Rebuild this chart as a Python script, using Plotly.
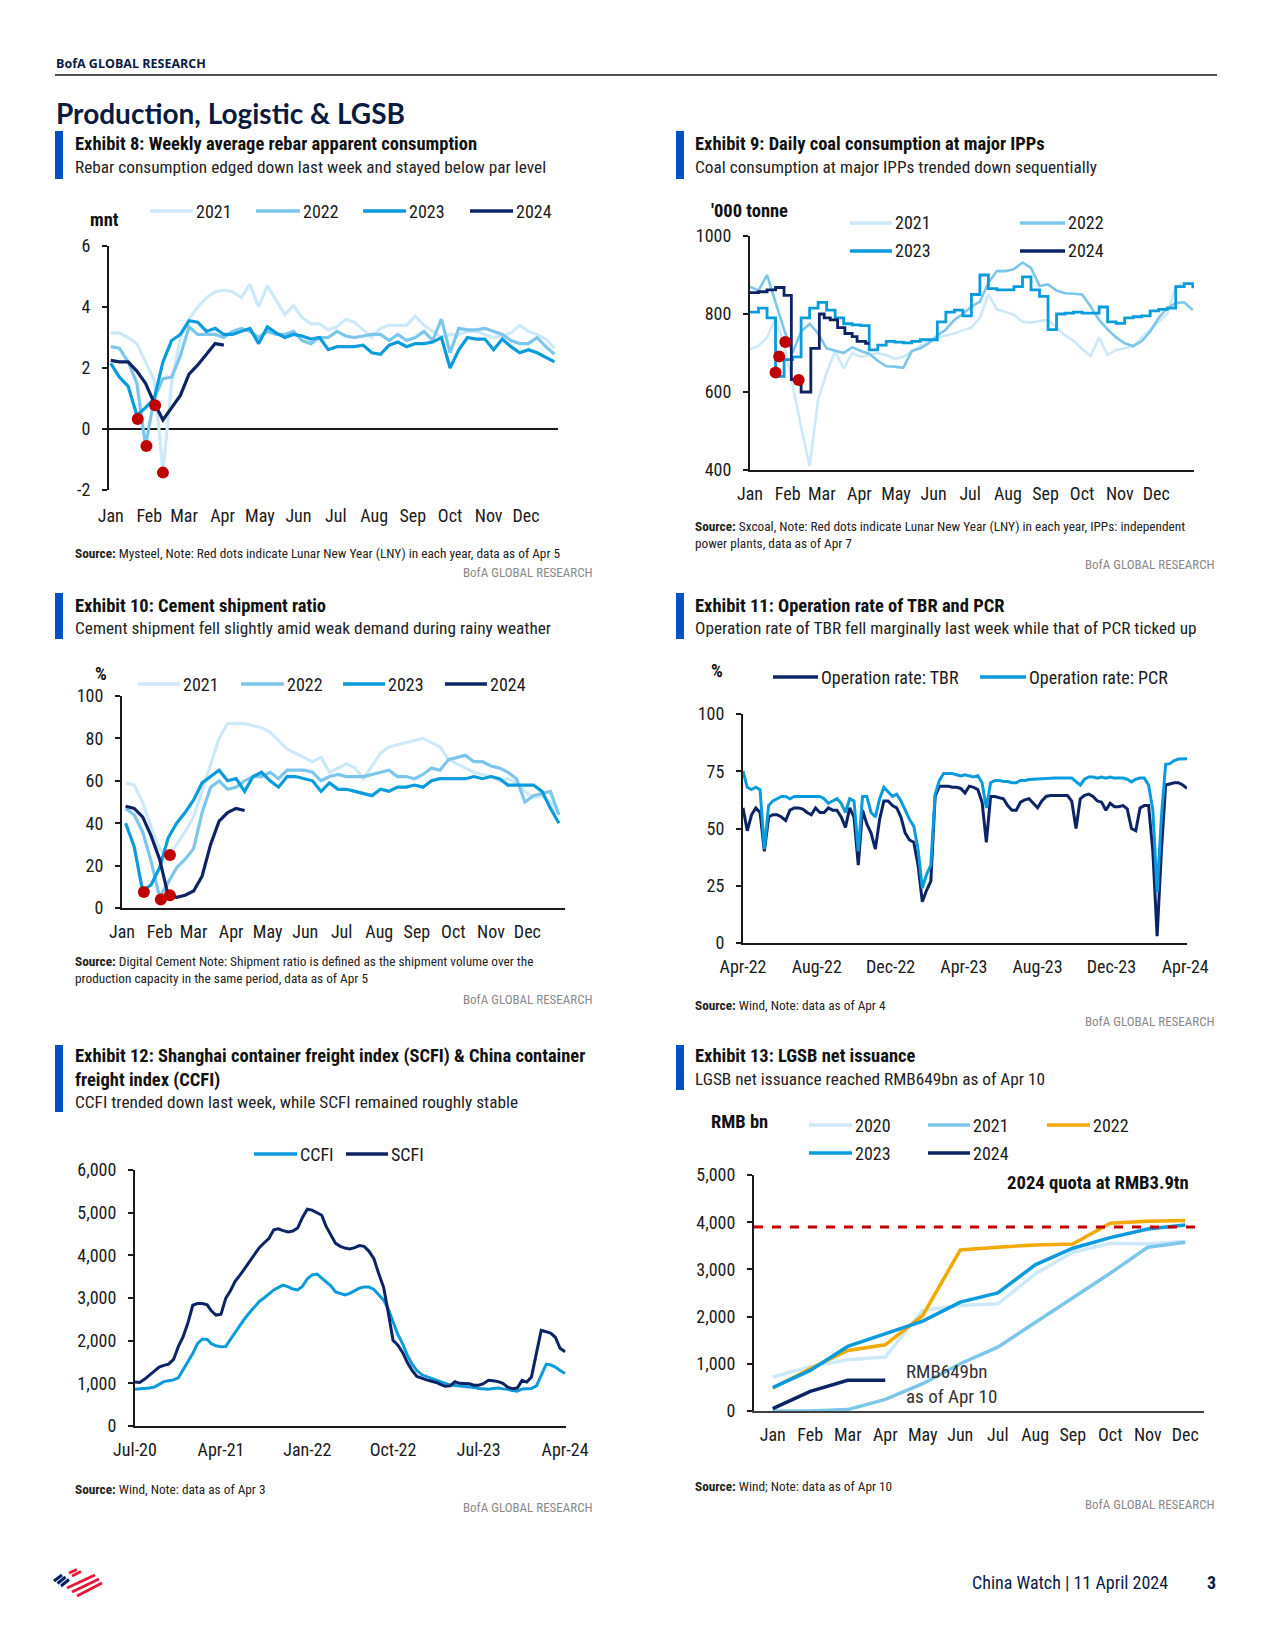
import plotly.graph_objects as go
import pandas as pd

W, H = 1275, 1650

# ---------------- DATA ----------------
MONTHS = ['Jan', 'Feb', 'Mar', 'Apr', 'May', 'Jun', 'Jul', 'Aug', 'Sep', 'Oct', 'Nov', 'Dec']
MONTH_START_DAY = [0, 31, 59, 90, 120, 151, 181, 212, 243, 273, 304, 334]

# Exhibit 8: weekly rebar apparent consumption (mnt), x = week of year
REBAR_WEEK = list(range(52))
REBAR_2021 = [3.15, 3.15, 3.0, 2.8, 2.2, 1.6, -1.4, 1.5, 3.0, 3.6, 4.0, 4.3, 4.5, 4.55, 4.5, 4.3, 4.75, 4.0, 4.7, 4.2,
              3.75, 4.05, 3.65, 3.45, 3.45, 3.25, 3.35, 3.6, 3.5, 3.25, 3.0, 3.3, 3.4, 3.4, 3.4, 3.7, 3.4, 3.2, 3.0, 3.1,
              3.1, 3.2, 3.2, 3.1, 3.0, 3.05, 3.15, 3.4, 3.2, 3.1, 2.95, 2.65]
REBAR_2022 = [2.7, 2.65, 2.2, 1.5, -0.55, 1.0, 1.65, 1.7, 2.4, 3.35, 3.1, 3.1, 3.1, 3.0, 3.2, 3.3, 3.2, 3.0, 3.2, 3.1,
              3.1, 3.2, 2.9, 2.8, 3.0, 3.0, 3.2, 3.05, 3.0, 3.05, 3.1, 3.1, 2.9, 3.1, 2.9, 3.0, 3.2, 2.9, 3.6, 2.5,
              3.3, 3.25, 3.25, 3.3, 3.2, 3.1, 2.9, 2.8, 2.8, 3.0, 2.7, 2.45]
REBAR_2023 = [2.15, 1.7, 1.4, 0.45, 0.7, 1.0, 2.2, 2.9, 3.1, 3.55, 3.5, 3.2, 3.3, 3.1, 3.1, 3.2, 3.3, 2.8, 3.35, 3.15,
              3.0, 3.1, 3.05, 2.95, 3.0, 2.6, 2.7, 2.7, 2.7, 2.75, 2.5, 2.45, 2.75, 2.85, 2.7, 2.8, 2.8, 2.85, 3.0, 2.0,
              2.6, 3.0, 2.95, 2.95, 2.6, 2.95, 2.7, 2.5, 2.6, 2.5, 2.35, 2.2]
REBAR_2024_WEEK = list(range(14))
REBAR_2024 = [2.25, 2.2, 2.2, 1.9, 1.5, 0.85, 0.3, 0.7, 1.1, 1.8, 2.1, 2.45, 2.8, 2.75]
REBAR_LNY_WEEK = [6.0, 4.1, 3.1, 5.1]
REBAR_LNY_VAL = [-1.43, -0.56, 0.33, 0.78]

# Exhibit 9: daily coal consumption ('000 tonne), x = day of year
COAL_DAY = list(range(0, 365, 7))
COAL_2021 = [710, 718, 740, 790, 720, 620, 510, 410, 580, 650, 705, 660, 700, 690, 695, 700, 695, 685, 690, 705,
             718, 728, 740, 745, 750, 758, 765, 790, 850, 812, 805, 798, 780, 778, 782, 785, 765, 745, 732, 710,
             692, 740, 695, 708, 712, 717, 740, 760, 780, 800, 870, 880, 875]
COAL_2022 = [870, 860, 900, 830, 760, 700, 755, 775, 750, 712, 705, 700, 715, 705, 698, 680, 666, 665, 662, 705,
             712, 725, 745, 760, 785, 800, 819, 832, 880, 910, 910, 915, 932, 918, 872, 876, 860, 853, 852, 850,
             819, 785, 760, 740, 725, 718, 730, 755, 790, 815, 828, 830, 810]
COAL_2023 = [805, 815, 790, 640, 683, 690, 790, 815, 830, 810, 790, 775, 772, 770, 708, 720, 730, 728, 726, 730,
             734, 734, 780, 805, 810, 795, 850, 900, 865, 862, 862, 870, 895, 862, 845, 760, 800, 802, 805, 802,
             802, 818, 780, 776, 790, 793, 795, 808, 812, 815, 870, 878, 866]
COAL_2024_DAY = [0, 7, 14, 21, 28, 34, 42, 50, 57, 61, 66, 72, 78, 84, 88, 95, 98]
COAL_2024 = [855, 857, 862, 868, 848, 632, 600, 712, 800, 790, 785, 765, 750, 742, 730, 725, 725]
COAL_LNY_DAY = [21, 24, 29, 40]
COAL_LNY_VAL = [650, 691, 728, 631]

# Exhibit 10: cement shipment ratio (%), x = day of year (weekly)
CEM_DAY = [3 + 7 * k for k in range(52)]
CEM_2021 = [59, 58, 50, 38, 28, 24, 30, 36, 43, 55, 68, 80, 87, 87, 87, 86, 85, 83, 79, 75,
            73, 71, 69, 71, 64, 66, 68, 66, 61, 67, 73, 76, 77, 78, 79, 80, 78, 76, 70, 68,
            66, 64, 63, 62, 60, 61, 59, 55, 52, 53, 50, 44]
CEM_2022 = [47, 44, 36, 22, 5, 12, 19, 23, 28, 45, 57, 60, 56, 57, 60, 62, 62, 64, 61, 65,
            65, 65, 64, 60, 62, 63, 62, 62, 62, 63, 64, 65, 62, 62, 61, 63, 66, 65, 70, 71,
            72, 69, 69, 67, 66, 64, 61, 50, 53, 54, 55, 44]
CEM_2023 = [40, 29, 8, 11, 19, 33, 40, 45, 51, 59, 62, 65, 60, 61, 55, 62, 64, 60, 57, 62,
            62, 61, 60, 55, 59, 56, 56, 55, 54, 53, 56, 55, 57, 57, 58, 57, 60, 61, 61, 61,
            61, 62, 61, 62, 61, 58, 58, 58, 58, 55, 47, 40]
CEM_2024 = [48, 47, 43, 34, 23, 6, 5, 6, 8, 15, 30, 41, 45, 47, 46]
CEM_LNY_DAY = [18, 32, 39.5, 39.5]
CEM_LNY_VAL = [7.5, 4, 6, 25]

# Exhibit 11: operation rate of TBR and PCR (%), weekly
OPR_DATE = pd.date_range('2022-04-01', '2024-04-04', periods=105)
TBR = [59, 49, 56, 59, 57, 40, 55, 56, 56, 55, 53.5, 58, 59, 59, 58.5, 57, 56, 59, 57, 57,
       59, 58, 58, 55, 50.5, 59, 55, 34, 58, 52, 48, 41, 54, 62, 62, 60, 59, 55, 48, 45,
       44, 34, 18, 23, 27, 64, 68.5, 68.5, 68.5, 68, 68, 67.5, 65.5, 68.5, 68, 67, 61.5, 44, 64, 64,
       63.5, 63, 60, 58, 58, 61.5, 62.5, 63, 61, 59, 62, 64, 64.4, 64.4, 64.4, 64.4, 64.4, 62, 50, 63,
       64.5, 65, 64, 62, 61.5, 58, 61, 59.5, 59.5, 60, 58.6, 50, 49, 59, 60, 60, 40, 3, 40, 69,
       69.5, 70, 70, 69, 67.5]
PCR = [75, 68, 67, 68, 67, 41, 60, 62, 63, 64, 64, 63, 64, 64, 64, 64, 64, 64, 64, 63,
       61, 62, 63, 61, 57, 63, 62, 40, 64, 64, 57, 55, 63, 68, 66, 64, 65, 62, 58, 54,
       51, 41, 24, 30, 34, 65, 71, 74, 74, 74, 73.5, 73, 73.5, 73, 72.5, 73, 70, 59, 70, 71,
       71, 70.5, 70.5, 70, 70, 71, 71, 71.4, 71.5, 71.7, 72, 72, 72, 72, 72, 72, 72, 72, 70.5, 69,
       71.5, 72.5, 72.5, 72, 72.5, 72, 72.5, 72, 72, 72, 71.5, 70.3, 71.5, 72, 72, 69, 58, 22, 55, 78,
       78.3, 79.7, 80.3, 80.5, 80.5]

# Exhibit 12: SCFI & CCFI, semi-monthly
FREIGHT_DATE = []
for _p in pd.period_range('2020-07', '2024-03', freq='M'):
    FREIGHT_DATE += [_p.start_time, _p.start_time + pd.Timedelta(days=15)]
FREIGHT_DATE.append(pd.Timestamp('2024-04-01'))
SCFI = [1030, 1020, 1100, 1190, 1270, 1380, 1420, 1450, 1560, 1860, 2090, 2400, 2830, 2870, 2870, 2840, 2700, 2600,
        2620, 2990, 3170, 3390, 3540, 3700, 3850, 4000, 4180, 4290, 4400, 4600, 4620, 4580, 4550, 4570, 4640, 4880,
        5080, 5060, 5000, 4940, 4690, 4480, 4280, 4210, 4170, 4150, 4180, 4230, 4210, 4100, 3920, 3580, 3250, 2650,
        2010, 1900, 1720, 1480, 1300, 1160, 1110, 1080, 1050, 1020, 975, 930, 940, 1040, 1000, 990, 990, 955, 955,
        990, 1070, 1060, 1040, 1000, 910, 876, 890, 1070, 1030, 1150, 1700, 2240, 2210, 2170, 2080, 1820, 1740]
CCFI = [860, 865, 870, 890, 915, 980, 1040, 1060, 1080, 1130, 1300, 1500, 1700, 1930, 2040, 2030, 1930, 1880,
        1855, 1860, 2030, 2200, 2360, 2520, 2660, 2790, 2920, 3000, 3100, 3190, 3250, 3300, 3260, 3210, 3190, 3270,
        3450, 3540, 3560, 3470, 3380, 3290, 3140, 3100, 3070, 3110, 3180, 3230, 3260, 3260, 3200, 3080, 2950, 2740,
        2450, 2150, 1920, 1650, 1450, 1300, 1200, 1160, 1110, 1080, 1040, 995, 960, 950, 940, 930, 918, 905, 880,
        870, 860, 880, 890, 870, 860, 830, 815, 870, 876, 880, 940, 1200, 1450, 1430, 1380, 1300, 1230]

# Exhibit 13: LGSB cumulative net issuance (RMB bn)
LG_2020 = [720, 940, 1086, 1142, 2130, 2235, 2270, 2905, 3364, 3554, 3540, 3590]
LG_2021 = [0, 0, 30, 247, 578, 1001, 1354, 1869, 2390, 2920, 3470, 3575]
LG_2022 = [487, 896, 1283, 1403, 2024, 3413, 3470, 3519, 3540, 3977, 4020, 4034]
LG_2023 = [494, 860, 1368, 1636, 1904, 2306, 2503, 3096, 3448, 3674, 3857, 3942]
LG_2024 = [49, 416, 649, 649]
LG_QUOTA = 3900

# ---------------- STYLE ----------------
C21 = '#CDE9F8'
C22 = '#7CC6EC'
C23 = '#0A9BDD'
C24 = '#0C2366'
RED = '#C00000'
ORANGE = '#F2A900'
BAR = '#0052C4'
INK = '#0B1B3F'
DARK = '#1a1a1a'
GREY = '#8a8a8a'
NARROW = 'Liberation Sans Narrow, Arial Narrow, Roboto Condensed, Roboto, sans-serif'
WIDE = 'Lato, Open Sans, sans-serif'

fig = go.Figure()


def line(x, y, color, ax, width=3.0, shape='linear'):
    fig.add_trace(go.Scatter(x=x, y=y, mode='lines', line=dict(color=color, width=width, shape=shape),
                             xaxis=ax[0], yaxis=ax[1], showlegend=False, hoverinfo='skip'))


def dots(x, y, ax):
    fig.add_trace(go.Scatter(x=x, y=y, mode='markers', marker=dict(color=RED, size=12),
                             xaxis=ax[0], yaxis=ax[1], showlegend=False, hoverinfo='skip'))


A1, A2, A3, A4, A5, A6 = ('x', 'y'), ('x2', 'y2'), ('x3', 'y3'), ('x4', 'y4'), ('x5', 'y5'), ('x6', 'y6')

# Exhibit 8
line(REBAR_WEEK, REBAR_2021, C21, A1, 3.2)
line(REBAR_WEEK, REBAR_2022, C22, A1, 3.2)
line(REBAR_WEEK, REBAR_2023, C23, A1, 3.2)
line(REBAR_2024_WEEK, REBAR_2024, C24, A1, 3.2)
dots(REBAR_LNY_WEEK, REBAR_LNY_VAL, A1)

# Exhibit 9
line(COAL_DAY, COAL_2021, C21, A2, 2.6)
line(COAL_DAY, COAL_2022, C22, A2, 2.6)
line(COAL_DAY, COAL_2023, C23, A2, 2.8, 'hv')
line(COAL_2024_DAY, COAL_2024, C24, A2, 2.8, 'hv')
dots(COAL_LNY_DAY, COAL_LNY_VAL, A2)

# Exhibit 10
line(CEM_DAY, CEM_2021, C21, A3, 3.2)
line(CEM_DAY, CEM_2022, C22, A3, 3.2)
line(CEM_DAY, CEM_2023, C23, A3, 3.2)
line(CEM_DAY[:len(CEM_2024)], CEM_2024, C24, A3, 3.2)
dots(CEM_LNY_DAY, CEM_LNY_VAL, A3)

# Exhibit 11
line(OPR_DATE, TBR, C24, A4, 3)
line(OPR_DATE, PCR, C23, A4, 3)

# Exhibit 12
line(FREIGHT_DATE, CCFI, C23, A5, 3)
line(FREIGHT_DATE, SCFI, C24, A5, 3)

# Exhibit 13
line(MONTHS, LG_2020, C21, A6, 3.5)
line(MONTHS, LG_2021, C22, A6, 3.5)
line(MONTHS, LG_2022, ORANGE, A6, 3.5)
line(MONTHS, LG_2023, C23, A6, 3.5)
line(MONTHS[:len(LG_2024)], LG_2024, C24, A6, 3.5)


# ---------------- AXES ----------------
def dx(x0, x1):
    return [x0 / W, x1 / W]


def dy(y0, y1):
    return [1 - y1 / H, 1 - y0 / H]


TICKFONT = dict(family=NARROW, size=18, color=DARK)


def xcfg(domain, anchor, **kw):
    d = dict(domain=domain, anchor=anchor, showgrid=False, zeroline=False, showline=True, linecolor=DARK,
             linewidth=2, ticks='', tickfont=TICKFONT, ticklabelstandoff=6, fixedrange=True, automargin=False)
    d.update(kw)
    return d


def ycfg(domain, anchor, **kw):
    d = dict(domain=domain, anchor=anchor, showgrid=False, zeroline=False, showline=True, linecolor=DARK,
             linewidth=2, ticks='outside', ticklen=5, tickwidth=2, tickcolor=DARK, tickfont=TICKFONT,
             ticklabelstandoff=8, fixedrange=True, automargin=False)
    d.update(kw)
    return d


week_ticks = [d / 7 for d in MONTH_START_DAY]

fig.update_layout(
    template='none',
    xaxis=xcfg(dx(109, 558), 'y', range=[-0.2, 51.4], tickvals=week_ticks, ticktext=MONTHS, showline=False,
               ticklabelstandoff=13),
    yaxis=ycfg(dy(246, 490), 'x', range=[-2, 6], tickvals=[-2, 0, 2, 4, 6], ticktext=['-2', '0', '2', '4', '6'],
               zeroline=True, zerolinecolor=DARK, zerolinewidth=2),
    xaxis2=xcfg(dx(750, 1194), 'y2', range=[0, 365], tickvals=MONTH_START_DAY, ticktext=MONTHS),
    yaxis2=ycfg(dy(236, 470), 'x2', range=[400, 1000], dtick=200),
    xaxis3=xcfg(dx(122, 565), 'y3', range=[0, 365], tickvals=MONTH_START_DAY, ticktext=MONTHS),
    yaxis3=ycfg(dy(696, 908), 'x3', range=[0, 100], dtick=20),
    xaxis4=xcfg(dx(743, 1187), 'y4', type='date', range=['2022-04-01', '2024-04-04'],
                tickvals=['2022-04-01', '2022-08-01', '2022-12-01', '2023-04-01', '2023-08-01', '2023-12-01',
                          '2024-04-01'], tickformat='%b-%y'),
    yaxis4=ycfg(dy(714, 943), 'x4', range=[0, 100], dtick=25),
    xaxis5=xcfg(dx(135, 566), 'y5', type='date', range=['2020-07-01', '2024-04-04'],
                tickvals=['2020-07-01', '2021-04-01', '2022-01-01', '2022-10-01', '2023-07-01', '2024-04-01'],
                tickformat='%b-%y'),
    yaxis5=ycfg(dy(1170, 1426), 'x5', range=[0, 6000], dtick=1000, tickformat=',d'),
    xaxis6=xcfg(dx(754, 1204), 'y6', type='category', range=[-0.5, 11.5], linecolor='#404040'),
    yaxis6=ycfg(dy(1175, 1411), 'x6', range=[0, 5000], dtick=1000, tickformat=',d'),
)

# quota line
fig.add_shape(type='line', xref='x6 domain', yref='y6', x0=0, x1=1, y0=LG_QUOTA, y1=LG_QUOTA,
              line=dict(color=RED, width=3, dash='dash'), layer='above')


# ---------------- TEXT / DECOR ----------------
def px(x):
    return x / W


def py(y):
    return 1 - y / H


def text(x, y, s, size=18, color=INK, xanchor='left', yanchor='middle', family=NARROW, weight=None, align='left'):
    font = dict(family=family, size=size, color=color)
    if weight:
        font['weight'] = weight
    fig.add_annotation(x=px(x), y=py(y), xref='paper', yref='paper', text=s, showarrow=False, xanchor=xanchor,
                       yanchor=yanchor, align=align, font=font, borderpad=0)


def pline(x0, y0, x1, y1, color, width):
    fig.add_shape(type='line', xref='paper', yref='paper', x0=px(x0), y0=py(y0), x1=px(x1), y1=py(y1),
                  line=dict(color=color, width=width))


def prect(x0, y0, x1, y1, color):
    fig.add_shape(type='rect', xref='paper', yref='paper', x0=px(x0), y0=py(y0), x1=px(x1), y1=py(y1),
                  line=dict(width=0), fillcolor=color)


def legend_item(x0, x1, y, color, label):
    pline(x0, y, x1, y, color, 3.5)
    text(x1 + 2, y, label, size=18, color=DARK)


# header
text(55, 63, 'BofA GLOBAL RESEARCH', size=12.5, family='Open Sans, sans-serif', weight=700, color=INK)
pline(55, 75, 1217, 75, DARK, 1.5)
text(55, 113, 'Production, Logistic & LGSB', size=28, family=WIDE, weight=700, color=INK)

# exhibit headers
for (bx, by0, by1) in [(55, 131, 179), (676, 131, 179), (55, 593, 639), (676, 593, 639), (55, 1045, 1112),
                       (676, 1045, 1090)]:
    prect(bx, by0, bx + 8, by1, BAR)

TITLE_KW = dict(size=18.5, weight=700, color='#111111')
SUB_KW = dict(size=17.3, color='#222222')
text(74, 144, 'Exhibit 8: Weekly average rebar apparent consumption', **TITLE_KW)
text(74, 167, 'Rebar consumption edged down last week and stayed below par level', **SUB_KW)
text(694, 144, 'Exhibit 9: Daily coal consumption at major IPPs', **TITLE_KW)
text(694, 167, 'Coal consumption at major IPPs trended down sequentially', **SUB_KW)
text(74, 606, 'Exhibit 10: Cement shipment ratio', **TITLE_KW)
text(74, 628, 'Cement shipment fell slightly amid weak demand during rainy weather', **SUB_KW)
text(694, 606, 'Exhibit 11: Operation rate of TBR and PCR', **TITLE_KW)
text(694, 628, 'Operation rate of TBR fell marginally last week while that of PCR ticked up', **SUB_KW)
text(74, 1056, 'Exhibit 12: Shanghai container freight index (SCFI) & China container', **TITLE_KW)
text(74, 1080, 'freight index (CCFI)', **TITLE_KW)
text(74, 1102, 'CCFI trended down last week, while SCFI remained roughly stable', **SUB_KW)
text(694, 1056, 'Exhibit 13: LGSB net issuance', **TITLE_KW)
text(694, 1079, 'LGSB net issuance reached RMB649bn as of Apr 10', **SUB_KW)

# units
UNIT_KW = dict(size=18.5, weight=700, color='#111111')
text(104, 220, 'mnt', xanchor='center', **UNIT_KW)
text(710, 211, "'000 tonne", **UNIT_KW)
text(101, 674, '%', xanchor='center', **UNIT_KW)
text(717, 671, '%', xanchor='center', **UNIT_KW)
text(710, 1122, 'RMB bn', **UNIT_KW)

# legends
for (x0, x1, c, lab) in [(150, 193, C21, '2021'), (256, 300, C22, '2022'), (363, 406, C23, '2023'),
                         (470, 513, C24, '2024')]:
    legend_item(x0, x1, 211, c, lab)
for (x0, x1, y, c, lab) in [(850, 892, 223, C21, '2021'), (1020, 1065, 223, C22, '2022'),
                            (850, 892, 251, C23, '2023'), (1020, 1065, 251, C24, '2024')]:
    legend_item(x0, x1, y, c, lab)
for (x0, x1, c, lab) in [(138, 180, C21, '2021'), (241, 284, C22, '2022'), (343, 385, C23, '2023'),
                         (445, 487, C24, '2024')]:
    legend_item(x0, x1, 684, c, lab)
legend_item(773, 818, 677, C24, 'Operation rate: TBR')
legend_item(980, 1026, 677, C23, 'Operation rate: PCR')
legend_item(254, 297, 1154, C23, 'CCFI')
legend_item(346, 388, 1154, C24, 'SCFI')
for (x0, x1, y, c, lab) in [(809, 852, 1125, C21, '2020'), (928, 970, 1125, C22, '2021'),
                            (1047, 1090, 1125, ORANGE, '2022'), (809, 852, 1153, C23, '2023'),
                            (928, 970, 1153, C24, '2024')]:
    legend_item(x0, x1, y, c, lab)

# chart annotations exhibit 13
text(1190, 1183, '2024 quota at RMB3.9tn', xanchor='right', size=18.7, weight=700, color='#111111')
text(905, 1359, 'RMB649bn<br>as of Apr 10', yanchor='top', size=19, color='#333333')

# sources
SRC_KW = dict(size=13.3, color='#222222')
text(74, 553, '<b>Source:</b> Mysteel, Note: Red dots indicate Lunar New Year (LNY) in each year, data as of Apr 5',
     **SRC_KW)
text(694, 518, '<b>Source:</b> Sxcoal, Note: Red dots indicate Lunar New Year (LNY) in each year, IPPs: independent'
               '<br>power plants, data as of Apr 7', yanchor='top', **SRC_KW)
text(74, 953, '<b>Source:</b> Digital Cement Note: Shipment ratio is defined as the shipment volume over the'
              '<br>production capacity in the same period, data as of Apr 5', yanchor='top', **SRC_KW)
text(694, 1005, '<b>Source:</b> Wind, Note: data as of Apr 4', **SRC_KW)
text(74, 1489, '<b>Source:</b> Wind, Note: data as of Apr 3', **SRC_KW)
text(694, 1486, '<b>Source:</b> Wind; Note: data as of Apr 10', **SRC_KW)

# BofA marks
for (xr, y) in [(594, 572), (1216, 564), (594, 999), (1216, 1021), (594, 1507), (1216, 1504)]:
    text(xr, y, 'BofA GLOBAL RESEARCH', xanchor='right', size=13, color=GREY)

# footer
text(1169, 1582, 'China Watch | 11 April 2024', xanchor='right', size=18, color=INK)
text(1211, 1582, '3', xanchor='center', size=18, weight=700, color=INK)
# logo stripes
for (x0, y0, x1, y1) in [(54, 1581, 62, 1575), (57.5, 1583.5, 65.5, 1577), (61, 1586, 69, 1579.5)]:
    pline(x0, y0, x1, y1, '#012169', 3)
for (x0, y0, x1, y1) in [(69, 1573, 77, 1569.5), (72, 1576, 81, 1571.5), (67, 1588, 95, 1575),
                         (72, 1592, 99, 1579), (77, 1596, 102, 1583)]:
    pline(x0, y0, x1, y1, '#E31837', 3)

fig.update_layout(width=W, height=H, margin=dict(l=0, r=0, t=0, b=0, pad=0, autoexpand=False),
                  paper_bgcolor='white', plot_bgcolor='white', showlegend=False)

fig.write_html('out.html', config={'displayModeBar': False, 'staticPlot': True},
               post_script="document.body.style.margin='0';document.body.style.padding='0';")
